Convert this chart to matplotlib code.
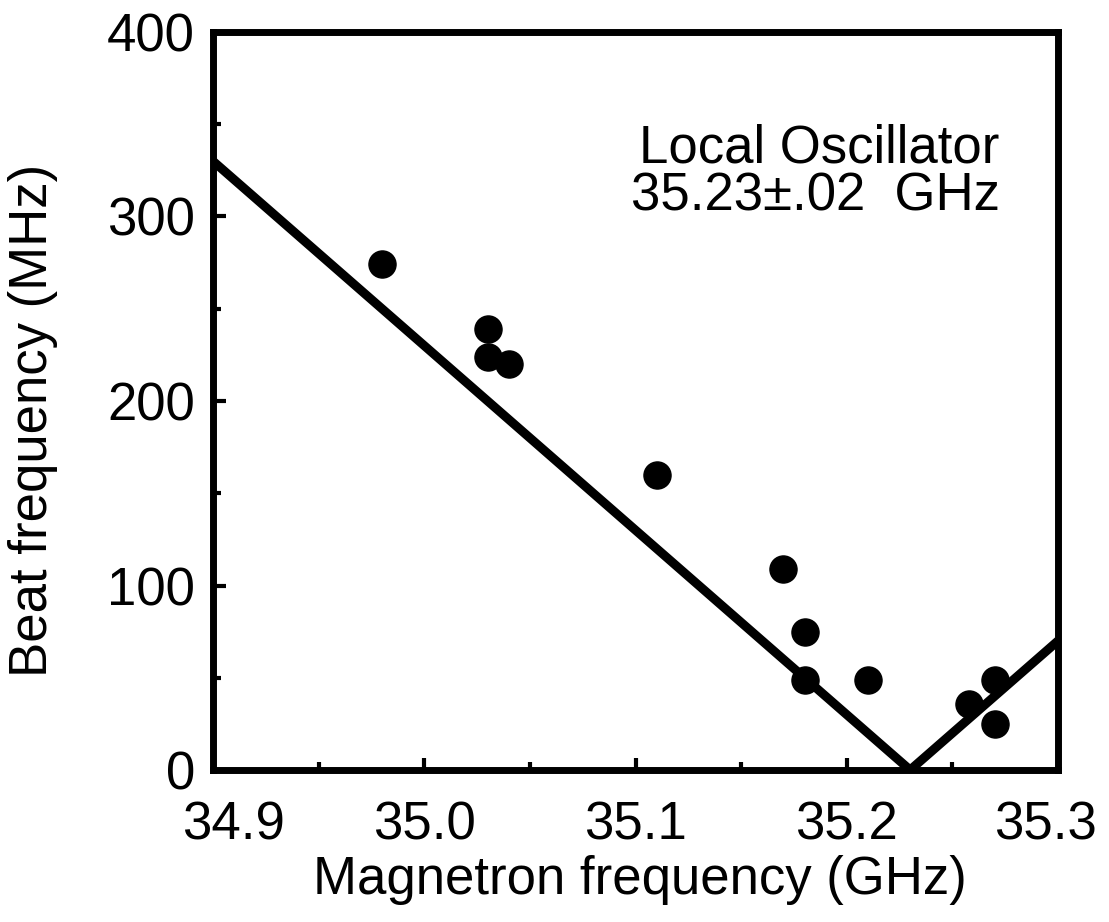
import numpy as np
import matplotlib
matplotlib.use("Agg")
import matplotlib.pyplot as plt
from matplotlib.ticker import MultipleLocator

plt.rcParams['font.family'] = ['Liberation Sans', 'DejaVu Sans']

# measured beat frequencies
mag_freq = [34.98, 35.03, 35.03, 35.04, 35.11, 35.17, 35.18, 35.18, 35.21, 35.258, 35.27, 35.27]
beat_freq = [274, 239, 224, 220, 160, 109, 75, 49, 49, 36, 49, 25]

# local oscillator line |f - f_LO|
lo_freq = 35.23
line_x = [34.9, lo_freq, 35.3]
line_y = [abs(x - lo_freq) * 1000 for x in line_x]

x_min, x_max = 34.9, 35.3

fig = plt.figure(figsize=(11.09, 9.22), dpi=100)
ax = fig.add_axes([213 / 1109, 1 - 770 / 922, 845 / 1109, 738 / 922])

ax.plot(line_x, line_y, color="black", lw=6.5, solid_capstyle="butt", zorder=2)
ax.plot(mag_freq, beat_freq, "o", color="black", ms=19.5, zorder=3)

ax.set_xlim(x_min, x_max)
ax.set_ylim(0, 400)
ax.xaxis.set_major_locator(MultipleLocator(0.1))
ax.xaxis.set_minor_locator(MultipleLocator(0.05))
ax.yaxis.set_major_locator(MultipleLocator(100))
ax.yaxis.set_minor_locator(MultipleLocator(50))


# end labels are drawn separately (nudged inwards like in the original)
def xfmt(v, p):
    if abs(v - x_min) < 1e-6 or abs(v - x_max) < 1e-6:
        return ""
    return f"{v:.1f}"


ax.xaxis.set_major_formatter(plt.FuncFormatter(xfmt))

ax.tick_params(which="major", direction="in", length=9, width=3, labelsize=38, pad=13)
ax.tick_params(axis="x", which="major", pad=22)
ax.tick_params(which="minor", direction="in", length=6, width=3)
for s in ax.spines.values():
    s.set_linewidth(5)

for xv, dx in [(x_min, 15), (x_max, -9)]:
    ax.annotate(f"{xv:.1f}", xy=(xv, 0), xycoords=("data", "axes fraction"),
                xytext=(dx, -22), textcoords="offset points",
                ha="center", va="top", fontsize=38)

ax.set_xlabel("Magnetron frequency (GHz)", fontsize=38)
ax.set_ylabel("Beat frequency (MHz)", fontsize=38)
ax.xaxis.set_label_coords(0.505, -0.115)
ax.yaxis.set_label_coords(-0.183, 0.474)

ax.text(0.931, 0.809, "Local Oscillator\n35.23\u00b1.02  GHz", transform=ax.transAxes,
        ha="right", va="center", fontsize=38, linespacing=0.95)

fig.savefig("out.png", dpi=100)
